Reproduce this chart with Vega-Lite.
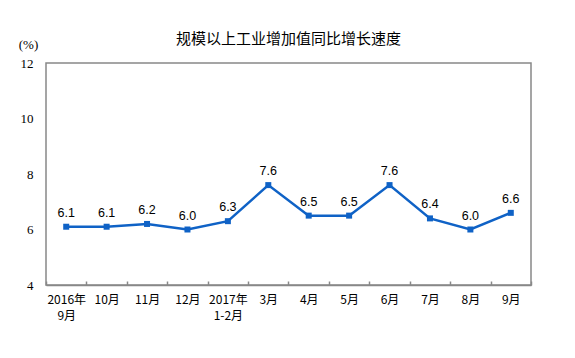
{
  "$schema": "https://vega.github.io/schema/vega-lite/v6.json",
  "autosize": "none",
  "width": 485,
  "height": 222,
  "padding": {"left": 46, "top": 63, "right": 44, "bottom": 73},
  "background": "white",
  "title": {
    "text": "规模以上工业增加值同比增长速度",
    "font": "Noto Sans CJK SC",
    "fontSize": 15,
    "fontWeight": "normal",
    "color": "#000000",
    "anchor": "middle",
    "offset": -9
  },
  "config": {
    "view": {"stroke": "#888888", "strokeWidth": 1.5},
    "axis": {"grid": false}
  },
  "data": {
    "values": [
      {"m": "2016年|9月", "v": 6.1},
      {"m": "10月", "v": 6.1},
      {"m": "11月", "v": 6.2},
      {"m": "12月", "v": 6.0},
      {"m": "2017年|1-2月", "v": 6.3},
      {"m": "3月", "v": 7.6},
      {"m": "4月", "v": 6.5},
      {"m": "5月", "v": 6.5},
      {"m": "6月", "v": 7.6},
      {"m": "7月", "v": 6.4},
      {"m": "8月", "v": 6.0},
      {"m": "9月", "v": 6.6}
    ]
  },
  "encoding": {
    "x": {
      "field": "m", "type": "ordinal", "sort": null,
      "scale": {"type": "band", "paddingInner": 0, "paddingOuter": 0},
      "axis": {
        "title": null, "labelAngle": 0,
        "labelExpr": "isValid(datum.value) ? split(datum.value, '|') : ''",
        "labelFont": "Noto Sans CJK SC", "labelFontSize": 12, "labelColor": "#000000",
        "labelLineHeight": 16, "labelPadding": 13,
        "tickBand": "extent", "tickSize": -4, "tickColor": "#888888", "tickWidth": 1.5,
        "domainColor": "#888888", "domainWidth": 1.5
      }
    },
    "y": {
      "field": "v", "type": "quantitative",
      "scale": {"domain": [4, 12], "nice": false, "zero": false},
      "axis": {
        "values": [4, 6, 8, 10, 12],
        "title": "(%)", "titleAngle": 0, "titleX": -18, "titleY": -19,
        "titleAlign": "center", "titleBaseline": "middle",
        "titleFont": "Liberation Serif", "titleFontSize": 13, "titleFontWeight": "normal", "titleColor": "#000000",
        "labelFont": "Liberation Serif", "labelFontSize": 13, "labelColor": "#000000",
        "labelPadding": 13, "ticks": false, "domain": false
      }
    }
  },
  "layer": [
    {"mark": {"type": "line", "color": "#0F62C6", "strokeWidth": 2.5}},
    {"mark": {"type": "square", "color": "#0F62C6", "size": 36, "opacity": 1, "filled": true}},
    {
      "mark": {"type": "text", "dy": -14, "font": "Liberation Sans", "fontSize": 12.5, "color": "#000000"},
      "encoding": {"text": {"field": "v", "type": "quantitative", "format": ".1f"}}
    }
  ]
}
